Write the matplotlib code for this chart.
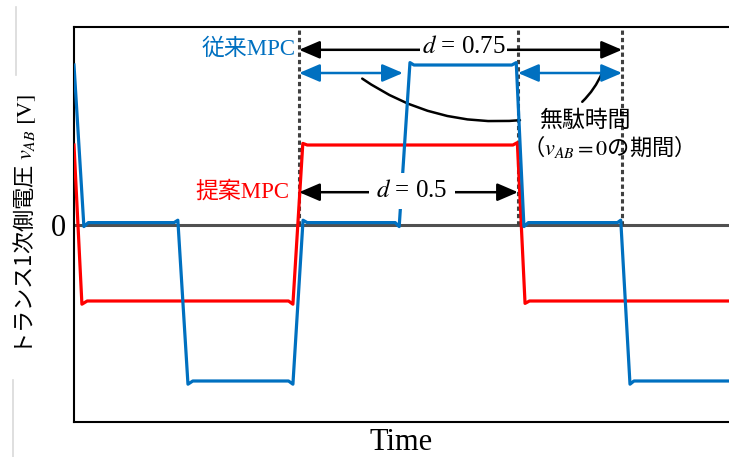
import matplotlib
matplotlib.use("Agg")
import matplotlib.pyplot as plt
from matplotlib.lines import Line2D

plt.rcParams['font.family'] = ['Liberation Serif', 'Noto Sans CJK JP', 'DejaVu Sans']
plt.rcParams['mathtext.fontset'] = 'stix'

# waveform breakpoints (time in arbitrary units, voltage normalised)
red_t = [0.0, 0.36, 0.6, 9.75, 9.95, 10.4, 10.6, 19.95, 20.15, 20.5, 20.7, 29.8]
red_v = [1.0, -0.99, -0.95, -0.95, -0.99, 1.02, 1.0, 1.0, 1.03, -0.98, -0.95, -0.95]

blue_t = [0.0, 0.45, 0.65, 4.55, 4.72, 5.18, 5.4, 9.75, 9.95, 10.41, 10.6,
          14.6, 14.78, 15.27, 15.45, 19.9, 20.1, 20.45, 20.65,
          24.7, 24.85, 25.27, 25.45, 29.8]
blue_v = [2.0, -0.02, 0.03, 0.03, 0.06, -1.99, -1.95, -1.95, -1.99, 0.06, 0.03,
          0.03, -0.02, 2.03, 2.0, 2.0, 2.03, -0.02, 0.03,
          0.03, 0.06, -1.99, -1.95, -1.95]

edges = [10.23, 20.18, 24.91]   # dotted markers
conv_gap = [(10.23, 14.95), (20.18, 24.91)]

blue = '#0070C0'
red = '#FF0000'
cjk = ['Noto Sans CJK JP']

fig = plt.figure(figsize=(7.29, 4.57), dpi=100)
ax = fig.add_axes([0.1015, 0.0766, 0.8985, 0.8643])
ax.set_xlim(0, 29.77)
ax.set_ylim(-2.4625, 2.475)

ax.axhline(0, color='#505050', lw=2.2, zorder=1)
for x in edges:
    ax.plot([x, x], [0, 2.475], color='#404040', lw=2.2, ls=(0, (1.4, 1.0)), zorder=2)

ax.plot(red_t, red_v, color=red, lw=2.3, zorder=3)
ax.plot(blue_t, blue_v, color=blue, lw=2.3, zorder=4)

arw = dict(arrowstyle='<|-|>,head_length=0.7,head_width=0.3', lw=1.8,
           shrinkA=0, shrinkB=0, mutation_scale=18)

# d = 0.75
ax.annotate('', xy=(edges[2], 2.19), xytext=(edges[0], 2.19),
            arrowprops=dict(color='black', **arw), zorder=5)
ax.text(17.7, 2.22, '$d$ = 0.75', fontsize=18, ha='center', va='center',
        bbox=dict(fc='white', ec='none', pad=1), zorder=6)
ax.text(10.05, 2.2, '従来MPC', color=blue, fontsize=16.5, ha='right', va='center')

# dead time arrows
for a, b in conv_gap:
    ax.annotate('', xy=(b, 1.9), xytext=(a, 1.9),
                arrowprops=dict(color=blue, **arw), zorder=5)

# d = 0.5
ax.annotate('', xy=(edges[1], 0.41), xytext=(edges[0], 0.41),
            arrowprops=dict(color='black', **arw), zorder=5)
ax.text(15.36, 0.43, '$d$ = 0.5', fontsize=18, ha='center', va='center',
        bbox=dict(fc='white', ec='none', pad=5), zorder=6)
ax.text(9.8, 0.42, '提案MPC', color=red, fontsize=16.5, ha='right', va='center')

# labels for dead time
ax.text(23.2, 1.31, '無駄時間', fontsize=16.5, ha='center', va='center', family=cjk, zorder=7)
ax.text(24.0, 0.98, '（$v_{AB} = 0$の期間）', fontsize=16, ha='center', va='center',
        family=cjk, zorder=7)
ax.annotate('', xy=(20.27, 1.31), xytext=(13.1, 1.83),
            arrowprops=dict(arrowstyle='-', color='black', lw=1.8,
                            shrinkA=0, shrinkB=0, connectionstyle='arc3,rad=0.18'))
ax.annotate('', xy=(23.1, 1.54), xytext=(24.0, 1.9),
            arrowprops=dict(arrowstyle='-', color='black', lw=1.8,
                            shrinkA=0, shrinkB=0, connectionstyle='arc3,rad=-0.1'))

# axes styling
for side in ['left', 'bottom', 'top']:
    ax.spines[side].set_color('black')
    ax.spines[side].set_linewidth(1.5)
ax.spines['right'].set_visible(False)
ax.set_xticks([])
ax.set_yticks([0])
ax.set_yticklabels(['0'], fontsize=22)
ax.tick_params(axis='y', length=0, pad=6)
ax.set_xlabel('Time', fontsize=22, labelpad=4)
ax.text(-0.075, 0.501, 'トランス1次側電圧 $v_{AB}\\ \\mathrm{[V]}$', transform=ax.transAxes,
        rotation=90, ha='center', va='center', fontsize=16, family=cjk)

# light frame marks on the left edge
fig.add_artist(Line2D([0.022, 0.022], [1 - 7 / 457, 1 - 75 / 457], color='#d9d9d9', lw=1.2))
fig.add_artist(Line2D([0.018, 0.018], [0.0, 1 - 380 / 457], color='#d9d9d9', lw=1.2))

fig.savefig('out.png', dpi=100)
